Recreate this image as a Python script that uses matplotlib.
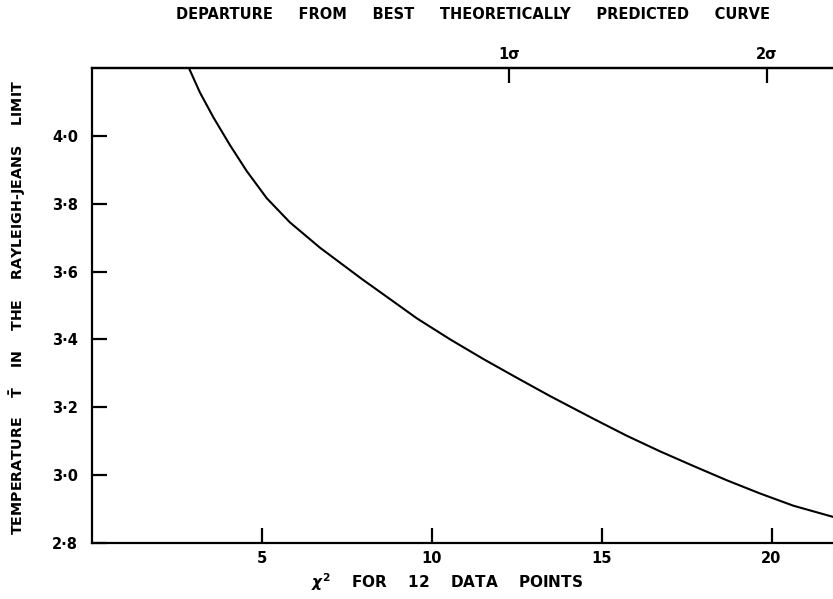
import matplotlib
matplotlib.use("Agg")
import matplotlib.pyplot as plt

# Curve (chi^2 vs temperature)
chi2 = [2.86, 3.17, 3.57, 4.06, 4.55, 5.14, 5.82, 6.71, 7.94, 8.57, 9.56, 10.54,
        11.52, 12.50, 13.48, 14.76, 15.74, 16.72, 17.70, 18.68, 19.66, 20.64, 21.81]
temp = [4.197, 4.128, 4.054, 3.972, 3.896, 3.816, 3.745, 3.670, 3.578, 3.533, 3.462, 3.400,
        3.342, 3.287, 3.233, 3.166, 3.116, 3.070, 3.027, 2.985, 2.946, 2.910, 2.877]

x_ticks = [5, 10, 15, 20]
x_tick_labels = ["5", "10", "15", "20"]
y_ticks = [2.8, 3.0, 3.2, 3.4, 3.6, 3.8, 4.0]
y_tick_labels = ["2\u00b78", "3\u00b70", "3\u00b72", "3\u00b74", "3\u00b76", "3\u00b78", "4\u00b70"]
sigma_ticks = [12.27, 19.86]
sigma_labels = ["1\u03c3", "2\u03c3"]

plt.rcParams['font.family'] = ['DejaVu Sans']
plt.rcParams['font.weight'] = 'bold'
plt.rcParams['mathtext.fontset'] = 'dejavusans'

fig = plt.figure(figsize=(8.33, 5.99), dpi=100)
ax = fig.add_axes([0.1107, 0.0935, 1.0 - 0.1107, 0.793])

ax.plot(chi2, temp, color='black', lw=1.5, solid_joinstyle='round')
ax.set_xlim(0, 21.81)
ax.set_ylim(2.8, 4.2)

for s in ['left', 'bottom', 'top']:
    ax.spines[s].set_linewidth(1.6)
ax.spines['right'].set_visible(False)

ax.set_xticks(x_ticks)
ax.set_xticklabels(x_tick_labels)
ax.set_yticks(y_ticks)
ax.set_yticklabels(y_tick_labels)
ax.tick_params(axis='both', direction='in', length=11, width=1.6, labelsize=10.5)
ax.tick_params(axis='x', pad=6)
ax.tick_params(axis='y', pad=10)

sec = ax.secondary_xaxis('top')
sec.set_xticks(sigma_ticks)
sec.set_xticklabels(sigma_labels)
sec.tick_params(direction='in', length=11, width=1.6, labelsize=10.5, pad=4)
sec.spines['top'].set_linewidth(1.6)

title = "     ".join(["DEPARTURE", "FROM", "BEST", "THEORETICALLY", "PREDICTED", "CURVE"])
fig.text(0.568, 0.975, title, ha='center', va='center', fontsize=10.5, fontweight='bold')

xlab = "    ".join([r"$\chi^2$", "FOR", "12", "DATA", "POINTS"])
fig.text(0.537, 0.028, xlab, ha='center', va='center', fontsize=11, fontweight='bold')

ylab = "    ".join(["TEMPERATURE", r"$\bar{\mathrm{T}}$", "IN", "THE", "RAYLEIGH-JEANS", "LIMIT"])
fig.text(0.0216, 0.4875, ylab, ha='center', va='center', rotation=90,
         fontsize=10.3, fontweight='bold')

fig.savefig("out.png", dpi=100)
